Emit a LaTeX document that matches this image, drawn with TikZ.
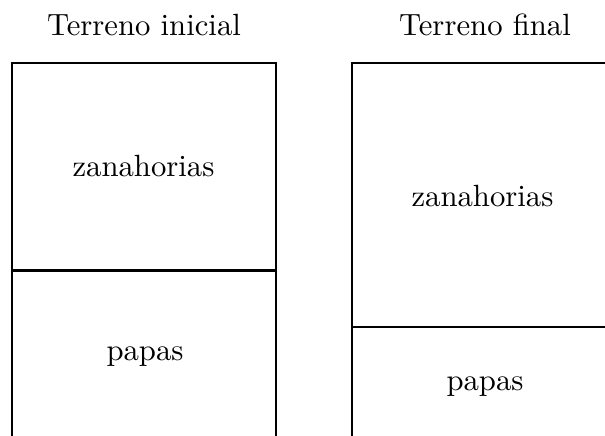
\documentclass[tikz,border=0pt]{standalone}
\begin{document}
\begin{tikzpicture}[x=0.3257pt,y=-0.3257pt,
  field/.style={line width=0.95pt,black},
  lbl/.style={anchor=base,inner sep=0pt,font=\normalsize}]
\useasboundingbox (0,0) rectangle (605,436);
\clip (0,0) rectangle (605,436);
% left field
\draw[field] (12,445) -- (12,63) -- (276,63) -- (276,445);
\draw[field] (12,270.5) -- (276,270.5);
% right field
\draw[field] (352,445) -- (352,63) -- (616,63) -- (616,445);
\draw[field] (352,327) -- (616,327);
\node[lbl] (t1) at (144,36) {Terreno inicial};
\node[lbl] (t2) at (485,36) {Terreno final};
\node[lbl] (z1) at (143.5,177) {zanahorias};
\node[lbl] (p1) at (145,361) {papas};
\node[lbl] (z2) at (482.5,207) {zanahorias};
\node[lbl] (p2) at (485,391) {papas};
\end{tikzpicture}
\end{document}
